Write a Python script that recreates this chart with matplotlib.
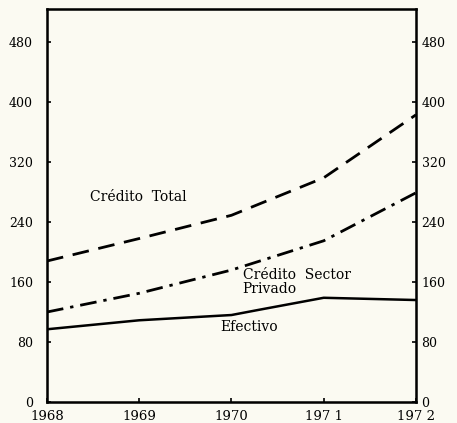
import matplotlib
matplotlib.use("Agg")
import matplotlib.pyplot as plt

plt.rcParams["font.family"] = "DejaVu Serif"

# data
years = [1968, 1969, 1970, 1971, 1972]
credito_total = [188, 218, 249, 299, 383]
credito_privado = [120, 145, 176, 215, 279]
efectivo_x = [1968, 1969, 1970, 1970.3, 1971, 1972]
efectivo = [97, 109, 116, 123, 139, 136]

yticks = [0, 80, 160, 240, 320, 400, 480]
xlabels = ["1968", "1969", "1970", "197 1", "197 2"]

bg = "#fbfaf2"
fig = plt.figure(figsize=(4.57, 4.23), dpi=100, facecolor=bg)
ax = fig.add_axes([0.1028, 0.0496, 0.8074, 0.929], facecolor=bg)

ax.plot(years, credito_total, color="black", lw=2, linestyle=(0, (6, 3.5)))
ax.plot(years, credito_privado, color="black", lw=2, linestyle=(0, (6, 2.5, 1.2, 2.5)))
ax.plot(efectivo_x, efectivo, color="black", lw=1.8)

ax.set_xlim(1968, 1972)
ax.set_ylim(0, 524)
ax.set_xticks(years)
ax.set_xticklabels(xlabels)
ax.set_yticks(yticks)

ax.tick_params(direction="in", length=3, width=1.2)
ax.tick_params(axis="y", labelsize=9, pad=10)
ax.tick_params(axis="x", labelsize=9.5, pad=6)
for s in ax.spines.values():
    s.set_linewidth(1.8)

# right hand scale, labels closer to the frame
ax2 = ax.twinx()
ax2.set_ylim(ax.get_ylim())
ax2.set_yticks(yticks)
ax2.tick_params(direction="in", length=3, width=1.2, labelsize=9, pad=4)

ax.text(1968.47, 273, "Crédito  Total", fontsize=10, va="center")
ax.text(1970.12, 160, "Crédito  Sector\nPrivado", fontsize=10,
        va="center", linespacing=0.95)
ax.text(1969.88, 100, "Efectivo", fontsize=10, va="center")

fig.savefig("out.png", dpi=100, facecolor=bg)
